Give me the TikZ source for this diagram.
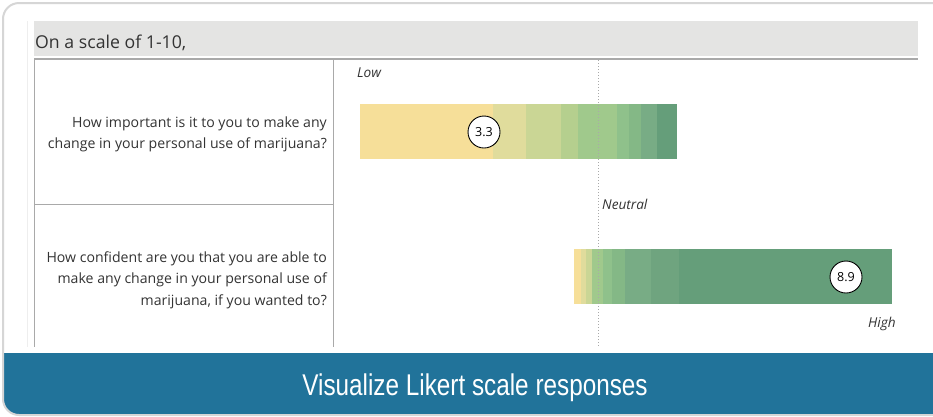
\documentclass[tikz,border=0pt]{standalone}
\usepackage{fontspec}
\setmainfont{Open Sans}
\newfontfamily\bannerfont[FakeStretch=0.81]{Liberation Sans}
\usetikzlibrary{positioning}

\definecolor{framegrey}{HTML}{D6D6D6}
\definecolor{headgrey}{HTML}{E4E4E3}
\definecolor{gridgrey}{HTML}{A9A9A9}
\definecolor{faintgrey}{HTML}{EEEEEE}
\definecolor{txtgrey}{HTML}{333333}
\definecolor{bannerblue}{HTML}{21739A}
\definecolor{lk1}{HTML}{F6DF99}
\definecolor{lk2}{HTML}{E0DC9C}
\definecolor{lk3}{HTML}{CAD695}
\definecolor{lk4}{HTML}{B5CF8E}
\definecolor{lk5}{HTML}{A0C98C}
\definecolor{lk6}{HTML}{8FC18B}
\definecolor{lk7}{HTML}{84B886}
\definecolor{lk8}{HTML}{78AC85}
\definecolor{lk9}{HTML}{6FA47F}
\definecolor{lk10}{HTML}{659E7A}

\begin{document}
\begin{tikzpicture}[x=1pt, y=-1pt, text=txtgrey]
                \tikzset{
                    grid line/.style={draw=gridgrey, line width=1pt},
                    question/.style={align=right, anchor=east, inner sep=0pt, font=\fontsize{14.1}{21.3}\selectfont},
                    score/.style={circle, draw=black, fill=white, line width=0.9pt, minimum size=32pt, inner sep=0pt, text=black, font=\fontsize{12.5}{12.5}\selectfont},
                    scale label/.style={anchor=base west, inner sep=0pt, font=\itshape\fontsize{13.6}{13.6}\selectfont},
                    neutral line/.style={draw=gridgrey, line width=1pt, dotted},
                }
                \useasboundingbox (0,0) rectangle (933,416);

                % frame and banner
                \begin{scope}
                    \clip[rounded corners=16pt] (3,3) rectangle (960,415);
                    \fill[white] (0,0) rectangle (933,416);
                    \fill[bannerblue] (0,353) rectangle (933,416);
                \end{scope}
                \draw[framegrey, line width=2pt, rounded corners=16pt] (3,3) rectangle (960,415);
                \draw[faintgrey, line width=1pt] (27,21) -- (27,347);

                % header
                \fill[headgrey] (34,21) rectangle (918,56);
                \node[anchor=base west, inner sep=0pt, font=\fontsize{17.7}{17.7}\selectfont] (head) at (35,48) {On a scale of 1-10,};

                % table
                \draw[grid line, line width=1.4pt] (34,59) -- (918,59);
                \draw[grid line] (34,59) -- (34,347);
                \draw[grid line] (333,59) -- (333,347);
                \draw[grid line] (34,204) -- (333,204);

                \node[question] (q1) at (327,134) {How important is it to you to make any\\change in your personal use of marijuana?};
                \node[question] (q2) at (327,280) {How confident are you that you are able to\\make any change in your personal use of\\marijuana, if you wanted to?};

                % bars
                \foreach \a/\b/\c in {360/493/lk1, 493/526/lk2, 526/561/lk3, 561/578/lk4, 578/617/lk5,
                                      617/629/lk6, 629/641/lk7, 641/657/lk8, 657/677/lk10}
                    \fill[\c] (\a,104) rectangle (\b,159);
                \foreach \a/\b/\c in {574/581/lk1, 581/586/lk2, 586/592/lk3, 592/603/lk5, 603/612/lk6,
                                      612/625/lk7, 625/651/lk8, 651/679/lk9, 679/892/lk10}
                    \fill[\c] (\a,249) rectangle (\b,304);

                \coordinate (neutral top) at (598,60);
                \coordinate (neutral bottom) at (598,347);
                \draw[neutral line] (neutral top) -- (neutral bottom);

                \node[score] (s1) at (484,132) {3.3};
                \node[score] (s2) at (846,277) {8.9};

                \node[scale label] (low) at (357,77) {Low};
                \node[scale label] (neutral) at (602,209) {Neutral};
                \node[scale label] (high) at (868,327) {High};

                \node[anchor=base, inner sep=0pt, text=white, font=\bannerfont\fontsize{30}{30}\selectfont] (title) at (475,395) {Visualize Likert scale responses};

            \end{tikzpicture}
\end{document}
